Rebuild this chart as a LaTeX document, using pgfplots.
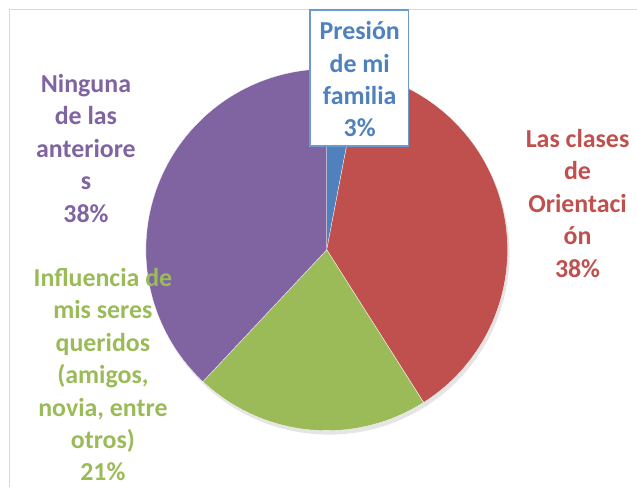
\documentclass[border=0pt]{standalone}
\usepackage{pgfplots}
\pgfplotsset{compat=1.18}
\usepackage{fontspec}
\setmainfont{Carlito}
\definecolor{cblue}{HTML}{4F81BD}
\definecolor{cred}{HTML}{C0504D}
\definecolor{cgreen}{HTML}{9BBB59}
\definecolor{cpurple}{HTML}{8064A2}
\definecolor{boxblue}{HTML}{6F98CC}
% shares (percent)
\def\vA{3}  % Presion de mi familia
\def\vB{38} % Las clases de Orientacion
\def\vC{21} % Influencia de mis seres queridos
\def\vD{38} % Ninguna de las anteriores
\pgfmathsetmacro\aA{90}
\pgfmathsetmacro\aB{\aA-3.6*\vA}
\pgfmathsetmacro\aC{\aB-3.6*\vB}
\pgfmathsetmacro\aD{\aC-3.6*\vC}
\pgfmathsetmacro\aE{\aD-3.6*\vD}
\begin{document}
\begin{tikzpicture}
\begin{axis}[width=637bp,height=487bp,scale only axis,
  xmin=0,xmax=637,ymin=0,ymax=487,hide axis,clip=false]
\path (axis cs:0,0) rectangle (axis cs:637,487);
\draw[black!15, line width=1bp] (axis cs:9.5,0) |- (axis cs:637,477.5);
% shadow
\addplot[draw=none, fill=black!10, domain=0:360, samples=120, variable=\t]
  ({329+181*cos(\t)},{233+181*sin(\t)}) -- cycle;
% slices
\addplot[fill=cblue, draw=white, line width=0.3pt, domain=\aB:\aA, samples=10, variable=\t]
  ({327+181*cos(\t)},{237+181*sin(\t)}) -- (327,237) -- cycle;
\addplot[fill=cred, draw=white, line width=0.3pt, domain=\aC:\aB, samples=100, variable=\t]
  ({327+181*cos(\t)},{237+181*sin(\t)}) -- (327,237) -- cycle;
\addplot[fill=cgreen, draw=white, line width=0.3pt, domain=\aD:\aC, samples=60, variable=\t]
  ({327+181*cos(\t)},{237+181*sin(\t)}) -- (327,237) -- cycle;
\addplot[fill=cpurple, draw=white, line width=0.3pt, domain=\aE:\aD, samples=100, variable=\t]
  ({327+181*cos(\t)},{237+181*sin(\t)}) -- (327,237) -- cycle;
% labels
\draw[boxblue, line width=1.5bp, fill=white] (axis cs:310,477) rectangle (axis cs:409,341);
\tikzset{lbl/.style={font=\bfseries\fontsize{26}{32.5}\selectfont, align=center, inner sep=0pt}}
\node[lbl, text=cblue] at (axis cs:360,407.5) {Presión\\de mi\\familia\\3\%};
\node[lbl, text=cred] at (axis cs:578,283.5) {Las clases\\de\\Orientaci\\ón\\38\%};
\node[lbl, text=cpurple] at (axis cs:86,338.5) {Ninguna\\de las\\anteriore\\s\\38\%};
\node[lbl, text=cgreen] at (axis cs:103,112) {Influencia de\\mis seres\\queridos\\(amigos,\\novia, entre\\otros)\\21\%};
\end{axis}
\end{tikzpicture}
\end{document}
